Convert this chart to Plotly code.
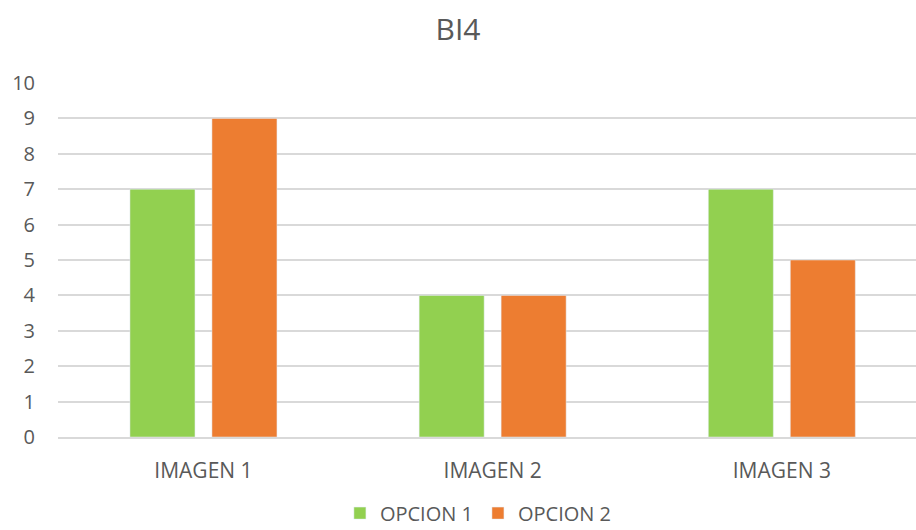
import plotly.graph_objects as go

categories = ["IMAGEN 1", "IMAGEN 2", "IMAGEN 3"]
opcion1 = [7, 4, 7]
opcion2 = [9, 4, 5]
y_ticks = list(range(0, 11))

text_color = "#595959"
grid_color = "#D9D9D9"
font_family = "Open Sans, Lato, sans-serif"

fig = go.Figure()
fig.add_trace(go.Bar(name="OPCION 1", x=categories, y=opcion1, marker_color="#92D050"))
fig.add_trace(go.Bar(name="OPCION 2", x=categories, y=opcion2, marker_color="#ED7D31"))

fig.update_layout(
    width=916,
    height=530,
    margin=dict(l=58, r=0, t=83, b=93, autoexpand=False),
    paper_bgcolor="white",
    plot_bgcolor="white",
    barmode="group",
    bargap=0.433,
    bargroupgap=0.207,
    font=dict(family=font_family, color=text_color, size=20),
    title=dict(
        text="BI4",
        x=0.5,
        xanchor="center",
        y=0.945,
        yanchor="middle",
        font=dict(size=30, color=text_color, family=font_family),
    ),
    showlegend=True,
    legend=dict(
        orientation="h",
        x=0.49,
        xanchor="center",
        y=-0.215,
        yanchor="middle",
        font=dict(size=20, color=text_color),
        traceorder="normal",
        itemwidth=30,
        borderwidth=0,
    ),
)

fig.update_xaxes(
    type="category",
    range=[-0.503, 2.464],
    showgrid=False,
    showline=True,
    linecolor=grid_color,
    linewidth=2,
    ticks="",
    ticklabelstandoff=14,
    tickfont=dict(size=21, color=text_color),
)

fig.update_yaxes(
    range=[0, 10],
    tickvals=y_ticks,
    showgrid=True,
    gridcolor=grid_color,
    gridwidth=2,
    zeroline=False,
    showline=False,
    ticks="",
    ticklabelstandoff=22,
    tickfont=dict(size=20, color=text_color),
)

fig.write_html("out.html")
